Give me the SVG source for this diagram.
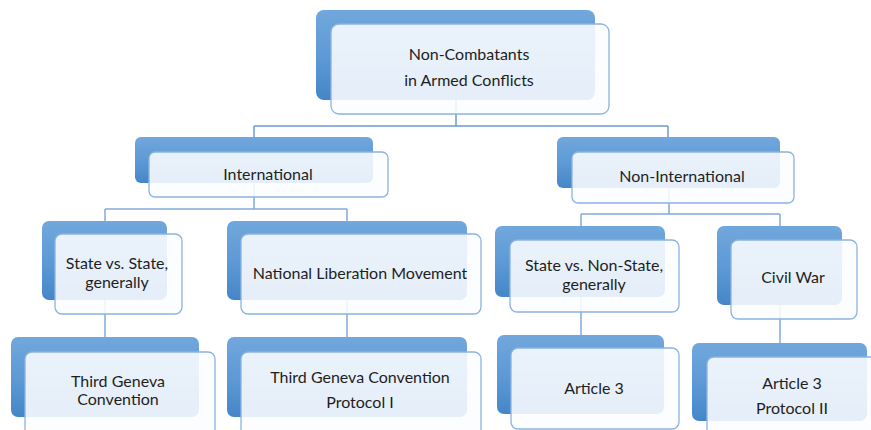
<svg xmlns="http://www.w3.org/2000/svg" width="871" height="430" viewBox="0 0 871 430">
<defs>
<linearGradient id="bg" x1="0" y1="0" x2="0" y2="1">
<stop offset="0" stop-color="#71A7DC"/>
<stop offset="0.5" stop-color="#5E9AD6"/>
<stop offset="1" stop-color="#4586C8"/>
</linearGradient>
</defs>
<style>
.back{fill:url(#bg);}
.front{fill:#FCFDFF;fill-opacity:0.88;stroke:#8BB3E0;stroke-width:1.3;}
.t{font-family:Lato,"Open Sans","Liberation Sans",sans-serif;font-size:16px;fill:#1E1E1E;text-anchor:middle;}
.c{fill:none;stroke:#82AADB;stroke-width:1.5;}
</style>
<rect width="871" height="430" fill="#fff"/>
<g id="connectors">
<path class="c" d="M456,100 V126 M254,126 H668 M254,126 V137 M668,126 V137" style="stroke:#6C9AD2"/>
<path class="c" d="M254,183 V209 M105,209 H347 M105,209 V221 M347,209 V221"/>
<path class="c" d="M105,300 V337 M347,300 V337"/>
<path class="c" d="M669,188 V214 M581,214 H780 M581,214 V226 M780,214 V226"/>
<path class="c" d="M581,297 V335 M780,305 V343"/>
</g>
<g id="root">
<rect class="back" x="316" y="10" width="279" height="90" rx="8"/>
<rect class="front" x="331" y="24" width="278" height="90" rx="8"/>
<text class="t" x="469" y="60">Non-Combatants</text>
<text class="t" x="469" y="86">in Armed Conflicts</text>
</g>
<g id="international">
<rect class="back" x="135" y="137" width="238" height="46" rx="6"/>
<rect class="front" x="149" y="152" width="239" height="45" rx="6"/>
<text class="t" x="268" y="180">International</text>
</g>
<g id="non-international">
<rect class="back" x="557" y="137" width="223" height="51" rx="6"/>
<rect class="front" x="572" y="152" width="222" height="51" rx="6"/>
<text class="t" x="682" y="182">Non-International</text>
</g>
<g id="state-vs-state">
<rect class="back" x="42" y="221" width="125" height="79" rx="7"/>
<rect class="front" x="55" y="234" width="127" height="80" rx="7"/>
<text class="t" x="117" y="269">State vs. State,</text>
<text class="t" x="117" y="288">generally</text>
</g>
<g id="national-liberation">
<rect class="back" x="227" y="221" width="240" height="79" rx="7"/>
<rect class="front" x="241" y="234" width="240" height="80" rx="7"/>
<text class="t" x="360" y="279">National Liberation Movement</text>
</g>
<g id="state-vs-non-state">
<rect class="back" x="495" y="226" width="170" height="71" rx="7"/>
<rect class="front" x="510" y="240" width="169" height="72" rx="7"/>
<text class="t" x="594" y="271">State vs. Non-State,</text>
<text class="t" x="594" y="290">generally</text>
</g>
<g id="civil-war">
<rect class="back" x="717" y="226" width="125" height="79" rx="7"/>
<rect class="front" x="731" y="240" width="126" height="79" rx="7"/>
<text class="t" x="793" y="283">Civil War</text>
</g>
<g id="third-geneva">
<rect class="back" x="11" y="337" width="188" height="80" rx="7"/>
<rect class="front" x="25" y="352" width="190" height="90" rx="7"/>
<text class="t" x="118" y="387">Third Geneva</text>
<text class="t" x="118" y="405">Convention</text>
</g>
<g id="third-geneva-protocol-i">
<rect class="back" x="227" y="337" width="240" height="80" rx="7"/>
<rect class="front" x="241" y="352" width="240" height="90" rx="7"/>
<text class="t" x="360" y="383">Third Geneva Convention</text>
<text class="t" x="360" y="408">Protocol I</text>
</g>
<g id="article-3">
<rect class="back" x="497" y="335" width="167" height="79" rx="7"/>
<rect class="front" x="511" y="348" width="168" height="81" rx="7"/>
<text class="t" x="594" y="394">Article 3</text>
</g>
<g id="article-3-protocol-ii">
<rect class="back" x="692" y="343" width="175" height="78" rx="7"/>
<rect class="front" x="707" y="357" width="175" height="90" rx="7"/>
<text class="t" x="792" y="389">Article 3</text>
<text class="t" x="792" y="414">Protocol II</text>
</g>
</svg>
